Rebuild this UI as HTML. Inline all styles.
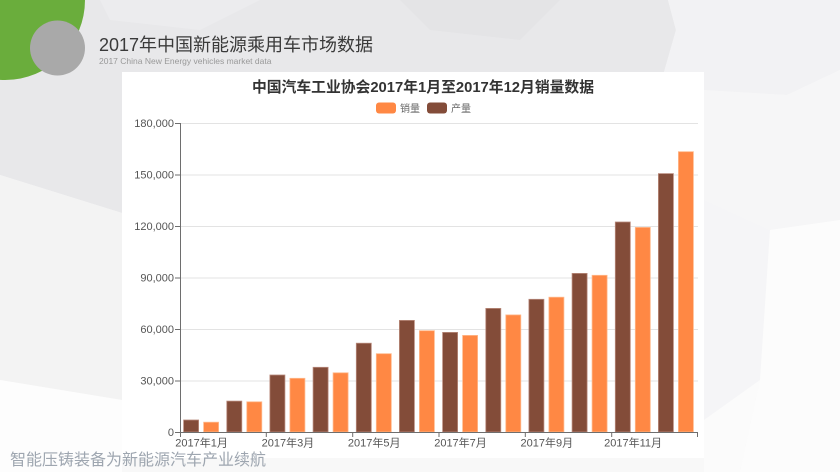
<!DOCTYPE html>
<html>
<head>
<meta charset="utf-8">
<style>
html,body{margin:0;padding:0;}
body{width:840px;height:472px;overflow:hidden;background:#f7f7f7;}
svg{display:block;}
text{font-family:"Liberation Sans","Noto Sans CJK SC",sans-serif;}
</style>
</head>
<body>
<svg width="840" height="472" viewBox="0 0 840 472" xmlns="http://www.w3.org/2000/svg">
  <!-- background low-poly -->
  <rect x="0" y="0" width="840" height="472" fill="#f8f8f8"/>
  <polygon points="0,0 668,0 676,30 664,72 122,72 122,213 0,175" fill="#e8e8ea"/>
  <polygon points="100,0 260,0 200,30 110,20" fill="#ececee"/>
  <polygon points="400,0 560,0 520,40 430,30" fill="#e4e4e6"/>
  <polygon points="668,0 840,0 840,70 787,95 676,90 664,72 676,30" fill="#f2f2f4"/>
  <polygon points="704,90 787,95 840,70 840,220 770,230 704,200" fill="#f6f6f7"/>
  <polygon points="704,200 770,230 760,380 704,420" fill="#f5f5f7"/>
  <polygon points="770,230 840,220 840,472 740,472 760,380" fill="#fcfcfc"/>
  <polygon points="0,175 122,213 122,400 0,380" fill="#f3f3f3"/>
  <polygon points="0,380 122,400 122,472 0,472" fill="#fdfdfd"/>
  <polygon points="704,420 760,380 740,472 704,472" fill="#fbfbfb"/>

  <!-- header circles -->
  <circle cx="5" cy="0" r="80" fill="#6aad3c"/>
  <circle cx="57.5" cy="48" r="27.5" fill="#a9a9a9"/>
  <text x="99" y="51" font-size="18" fill="#3a3a3a">2017年中国新能源乘用车市场数据</text>
  <text x="99" y="64" font-size="8.5" fill="#999">2017 China New Energy vehicles market data</text>

  <!-- chart panel -->
  <rect x="122" y="72" width="582" height="386" fill="#ffffff"/>
  <text x="423" y="92" font-size="14.8" font-weight="bold" fill="#333" text-anchor="middle">中国汽车工业协会2017年1月至2017年12月销量数据</text>

  <!-- legend -->
  <rect x="376" y="102.5" width="20" height="11" rx="3" fill="#ff8844"/>
  <text x="400" y="112" font-size="10" fill="#666">销量</text>
  <rect x="427" y="102.5" width="20" height="11" rx="3" fill="#834c39"/>
  <text x="451" y="112" font-size="10" fill="#666">产量</text>

  <!-- grid -->
  <g stroke="#e3e3e3" stroke-width="1">
    <line x1="180" y1="123.5" x2="698" y2="123.5"/>
    <line x1="180" y1="175" x2="698" y2="175"/>
    <line x1="180" y1="226.5" x2="698" y2="226.5"/>
    <line x1="180" y1="278" x2="698" y2="278"/>
    <line x1="180" y1="329.5" x2="698" y2="329.5"/>
    <line x1="180" y1="381" x2="698" y2="381"/>
  </g>

  <!-- y labels -->
  <g font-size="11" fill="#555" text-anchor="end">
    <text x="174" y="436">0</text>
    <text x="174" y="384.5">30,000</text>
    <text x="174" y="333">60,000</text>
    <text x="174" y="281.5">90,000</text>
    <text x="174" y="230">120,000</text>
    <text x="174" y="178.5">150,000</text>
    <text x="174" y="127">180,000</text>
  </g>

  <!-- bars -->
  <g fill="#834c39" stroke="#b98a7c" stroke-width="0.8">
    <rect x="183.6" y="420.0" width="15" height="12.0"/>
    <rect x="226.8" y="401.1" width="15" height="30.9"/>
    <rect x="269.9" y="375.0" width="15" height="57.0"/>
    <rect x="313.1" y="367.3" width="15" height="64.7"/>
    <rect x="356.3" y="343.2" width="15" height="88.8"/>
    <rect x="399.4" y="320.4" width="15" height="111.6"/>
    <rect x="442.6" y="332.4" width="15" height="99.6"/>
    <rect x="485.8" y="308.4" width="15" height="123.6"/>
    <rect x="528.9" y="299.3" width="15" height="132.7"/>
    <rect x="572.1" y="273.4" width="15" height="158.6"/>
    <rect x="615.3" y="222.0" width="15" height="210.0"/>
    <rect x="658.4" y="173.6" width="15" height="258.4"/>
  </g>
  <g fill="#ff8844" stroke="#ffb98c" stroke-width="0.8">
    <rect x="203.6" y="422.2" width="15" height="9.8"/>
    <rect x="246.8" y="401.8" width="15" height="30.2"/>
    <rect x="289.9" y="378.3" width="15" height="53.7"/>
    <rect x="333.1" y="372.8" width="15" height="59.2"/>
    <rect x="376.3" y="353.7" width="15" height="78.3"/>
    <rect x="419.4" y="330.7" width="15" height="101.3"/>
    <rect x="462.6" y="335.4" width="15" height="96.6"/>
    <rect x="505.8" y="314.9" width="15" height="117.1"/>
    <rect x="548.9" y="297.2" width="15" height="134.8"/>
    <rect x="592.1" y="275.3" width="15" height="156.7"/>
    <rect x="635.3" y="227.4" width="15" height="204.6"/>
    <rect x="678.4" y="151.7" width="15" height="280.3"/>
  </g>

  <!-- axes -->
  <g stroke="#6e6e6e" stroke-width="1">
    <line x1="180.5" y1="123" x2="180.5" y2="432"/>
    <line x1="175" y1="123.5" x2="180" y2="123.5"/>
    <line x1="175" y1="175" x2="180" y2="175"/>
    <line x1="175" y1="226.5" x2="180" y2="226.5"/>
    <line x1="175" y1="278" x2="180" y2="278"/>
    <line x1="175" y1="329.5" x2="180" y2="329.5"/>
    <line x1="175" y1="381" x2="180" y2="381"/>
    <line x1="175" y1="432.5" x2="180" y2="432.5"/>
    <line x1="180" y1="432.5" x2="698" y2="432.5"/>
    <line x1="180.5" y1="432" x2="180.5" y2="437"/>
    <line x1="266.3" y1="432" x2="266.3" y2="437"/>
    <line x1="352.7" y1="432" x2="352.7" y2="437"/>
    <line x1="439" y1="432" x2="439" y2="437"/>
    <line x1="525.3" y1="432" x2="525.3" y2="437"/>
    <line x1="611.7" y1="432" x2="611.7" y2="437"/>
    <line x1="697.5" y1="432" x2="697.5" y2="437"/>
  </g>

  <!-- x labels -->
  <g font-size="11" fill="#555" text-anchor="middle">
    <text x="201.6" y="446.5">2017年1月</text>
    <text x="287.9" y="446.5">2017年3月</text>
    <text x="374.2" y="446.5">2017年5月</text>
    <text x="460.5" y="446.5">2017年7月</text>
    <text x="546.8" y="446.5">2017年9月</text>
    <text x="633.1" y="446.5">2017年11月</text>
  </g>

  <!-- footer text -->
  <text x="10" y="465" font-size="16" fill="#9ea6b0">智能压铸装备为新能源汽车产业续航</text>
</svg>
</body>
</html>
